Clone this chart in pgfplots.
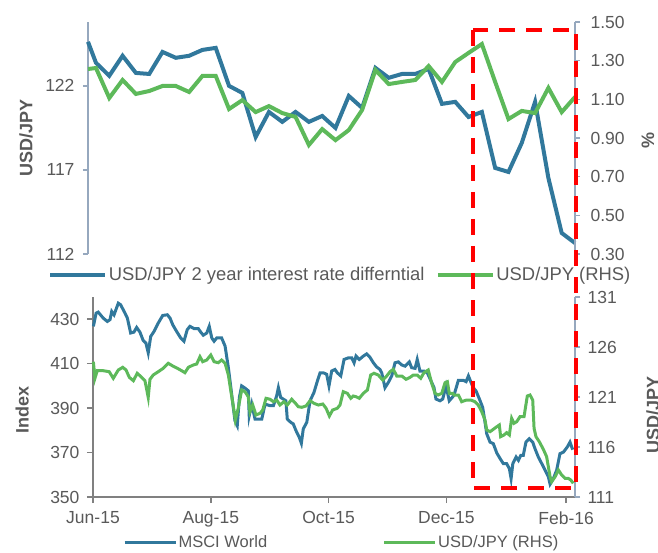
\documentclass[border=0pt]{standalone}
\usepackage{pgfplots}
\pgfplotsset{compat=1.18}
\usepackage{fontspec}
\setmainfont{Liberation Sans}
\definecolor{cblue}{RGB}{49,120,156}
\definecolor{cgreen}{RGB}{93,185,90}
\definecolor{tickgray}{RGB}{89,89,89}
\definecolor{axgray}{RGB}{128,128,128}
\definecolor{axblue}{RGB}{150,168,190}
\pgfplotsset{
  base/.style={scale only axis, clip=false,
    /pgf/number format/assume math mode=true,
    tick label style={font=\fontsize{17.5}{20}\selectfont, text=tickgray},
    label style={font=\fontsize{18}{21}\selectfont\bfseries, text=tickgray},
    tick align=outside, major tick length=5pt,
  },
}
\pgfplotstableread{
x v
-0.6 124.62
0 123.37
1 122.60
2 123.79
3 122.77
4 122.71
5 124.02
6 123.67
7 123.79
8 124.14
9 124.26
10 122.00
11 121.58
12 118.96
13 120.45
14 119.86
15 120.45
16 119.86
17 120.21
18 119.50
19 121.40
20 120.69
21 123.07
22 122.48
23 122.71
24 122.71
25 123.01
26 120.93
27 121.05
28 120.15
29 120.45
30 117.12
31 116.88
32 118.61
33 121.05
34 116.52
35 113.25
36 112.65
}\topblue
\pgfplotstableread{
x v
-0.6 1.257
0 1.262
1 1.107
2 1.200
3 1.128
4 1.143
5 1.169
6 1.169
7 1.138
8 1.221
9 1.221
10 1.050
11 1.096
12 1.034
13 1.065
14 1.029
15 1.009
16 0.864
17 0.946
18 0.889
19 0.941
20 1.045
21 1.252
22 1.179
23 1.190
24 1.200
25 1.272
26 1.190
27 1.293
28 1.340
29 1.386
30 1.190
31 0.998
32 1.040
33 1.029
34 1.159
35 1.034
36 1.112
}\topgreen
\pgfplotstableread{
d v
0.2 426.8
1.6 432.7
2.7 433.2
5.3 430.5
7.4 429.0
8.8 429.8
9.7 433.5
10.9 432.0
13.1 437.2
14.3 436.5
16.6 432.7
17.8 430.5
19.5 423.8
21.2 424.2
22.6 426.3
24.3 424.2
26.0 420.4
27.4 419.3
28.6 414.9
29.9 422.3
31.6 424.5
33.8 428.3
36.1 431.7
38.5 432.0
39.9 430.5
41.3 427.5
43.3 424.5
45.4 421.6
47.1 420.1
48.8 425.3
50.2 426.8
52.3 425.8
54.5 425.8
55.8 424.2
57.1 422.8
58.9 423.8
60.2 426.8
61.5 421.6
62.7 420.1
64.1 421.6
66.6 421.6
68.4 417.9
70.1 408.2
71.8 396.3
73.5 384.4
74.7 382.1
75.8 394.8
77.0 400.0
78.7 399.0
80.4 397.8
80.9 386.6
82.2 391.8
83.9 385.1
87.4 385.1
89.1 391.8
91.7 391.1
93.4 391.1
95.1 395.5
96.0 399.2
97.2 394.8
99.9 393.3
100.6 385.1
102.4 383.6
103.7 382.9
105.1 379.9
106.8 376.9
107.9 374.2
108.9 380.7
110.7 383.6
112.4 393.3
114.4 397.0
116.2 402.2
117.6 405.9
119.3 405.9
121.0 405.2
122.2 400.0
123.6 406.7
125.3 407.4
126.5 405.9
128.3 404.5
130.0 411.9
132.2 412.6
134.0 412.6
135.2 410.4
136.2 413.4
137.9 411.9
140.0 413.4
141.7 414.4
143.4 412.9
145.2 410.4
146.9 408.5
148.6 407.4
149.5 405.9
151.2 399.2
152.9 401.5
154.7 404.5
156.4 410.4
158.1 410.8
159.9 409.4
161.6 408.9
163.8 410.8
165.0 408.2
166.8 407.9
167.9 411.9
169.3 406.7
171.4 406.7
173.1 405.9
174.9 402.5
176.6 399.2
177.6 394.1
179.7 393.3
181.1 394.1
182.8 400.0
184.5 393.3
186.3 395.1
187.0 396.0
189.2 402.5
191.8 402.5
193.2 401.9
194.4 404.5
195.6 401.9
196.9 399.2
198.3 397.8
200.1 394.1
201.8 390.3
203.0 383.6
203.9 378.4
205.6 374.7
207.3 374.0
209.1 369.8
210.8 367.3
212.5 365.0
214.2 365.0
215.6 362.8
216.5 358.3
217.4 365.0
219.1 368.0
220.3 366.5
221.5 368.7
222.8 368.7
224.2 374.7
225.9 376.2
227.7 374.7
228.9 371.7
230.6 368.0
232.4 365.0
234.1 362.1
235.8 359.1
236.7 355.8
238.4 358.3
240.1 362.1
241.8 369.5
243.6 370.2
245.6 372.5
247.0 374.7
248.4 371.3
}\msci
\pgfplotstableread{
d v
0.2 124.53
1.0 122.87
2.2 123.63
5.3 123.63
8.4 123.53
10.5 122.87
13.1 123.70
15.4 123.97
17.1 123.70
18.8 122.97
20.9 122.63
22.9 123.37
25.2 122.97
26.9 122.63
28.6 120.97
29.5 122.77
31.2 123.20
33.8 123.53
36.4 123.87
39.0 124.37
41.3 124.10
43.7 123.87
45.9 123.63
47.6 123.43
49.4 123.97
51.9 124.20
53.7 124.30
55.4 125.03
56.8 124.53
58.9 124.70
61.0 125.20
62.7 124.53
64.9 124.43
66.6 124.70
68.4 124.37
70.1 123.20
71.3 121.70
72.7 120.03
73.7 118.70
75.2 119.87
77.0 121.70
78.7 121.53
80.4 121.03
81.3 119.53
82.7 120.20
84.4 119.20
86.5 119.37
87.9 119.70
89.6 120.87
91.7 120.77
93.4 120.53
95.1 120.70
96.8 120.20
98.9 120.53
100.6 120.20
102.9 120.77
104.6 120.43
106.3 120.03
108.1 119.97
110.3 120.10
112.4 120.63
114.4 120.37
116.7 120.20
119.0 120.30
120.7 119.87
122.4 119.10
124.1 119.70
126.5 119.87
127.9 120.20
129.6 121.53
131.7 121.37
133.5 120.87
134.8 121.10
136.2 121.03
137.9 120.87
140.0 121.37
142.1 121.70
143.8 123.20
145.5 123.37
147.7 123.20
150.0 122.70
152.1 123.10
153.8 123.53
155.5 123.77
157.3 123.10
159.9 123.10
162.1 122.77
164.2 122.97
165.9 123.20
167.9 123.20
169.7 122.87
171.4 123.43
173.6 123.70
175.4 122.37
177.1 121.37
178.8 121.20
180.6 121.37
182.3 122.43
183.5 122.53
184.5 121.37
186.3 121.37
187.0 121.20
189.2 121.20
190.9 120.53
193.5 120.70
195.6 120.70
197.8 120.53
199.5 120.20
201.3 119.53
203.0 118.70
203.9 117.70
205.6 117.53
207.3 117.77
209.1 118.03
210.4 118.20
211.1 117.03
212.8 117.20
214.2 117.43
215.6 117.20
216.8 118.87
218.0 118.37
219.4 118.53
221.1 119.03
223.2 119.03
224.9 121.10
226.3 121.20
227.7 120.70
228.4 117.87
229.4 117.03
231.1 116.53
233.2 115.77
234.9 115.03
236.7 113.03
237.5 112.53
239.3 113.03
241.0 113.70
242.7 113.20
244.4 112.87
246.1 112.87
247.4 112.70
248.7 112.37
}\usdjpy
\begin{document}
\begin{tikzpicture}
% ---------- top panel ----------
\begin{axis}[base, at={(88pt,-254pt)}, anchor=south west, width=487pt, height=232pt,
  xmin=-0.6, xmax=36, ymin=112, ymax=125.8,
  hide x axis, axis y line*=left,
  ytick={112,117,122}, yticklabel shift=5pt,
  y axis line style={axblue, line width=1.3pt}, ytick style={axblue, line width=1.3pt},
  ylabel={USD/JPY}, ylabel style={at={(axis description cs:-0.127,0.5)}, anchor=center}]
\addplot[cblue, line width=4pt] table[x=x,y=v] {\topblue};
\end{axis}
\begin{axis}[base, at={(88pt,-254pt)}, anchor=south west, width=487pt, height=232pt,
  xmin=-0.6, xmax=36, ymin=0.3, ymax=1.5,
  hide x axis, axis y line*=right,
  ytick={0.3,0.5,0.7,0.9,1.1,1.3,1.5}, yticklabel shift=7pt,
  yticklabel style={/pgf/number format/.cd, fixed, fixed zerofill, precision=2},
  y axis line style={axblue, line width=1.3pt}, ytick style={axblue, line width=1.3pt},
  ylabel={\%}, ylabel style={at={(axis description cs:1.150,0.491)}, anchor=center},
  legend columns=2,
  legend image code/.code={\draw[#1] (0pt,0pt) -- (55pt,0pt);},
  legend style={at={(axis description cs:-0.082,-0.0905)}, anchor=west, draw=none, fill=none,
    inner sep=0pt, font=\fontsize{18.4}{21}\selectfont, text=tickgray, nodes={inner sep=1.5pt},
    /tikz/every even column/.append style={column sep=10pt}}]
\addlegendimage{cblue, line width=4pt}
\addlegendentry{USD/JPY 2 year interest rate differntial}
\addplot[cgreen, line width=4pt] table[x=x,y=v] {\topgreen};
\addlegendentry{USD/JPY (RHS)}
\end{axis}
% ---------- bottom panel ----------
\begin{axis}[base, at={(93pt,-497pt)}, anchor=south west, width=482pt, height=200pt,
  xmin=0, xmax=249.6, ymin=350, ymax=440,
  axis x line*=bottom, axis y line*=left,
  xtick={0,61,122,183,245}, xticklabels={Jun-15,Aug-15,Oct-15,Dec-15,Feb-16},
  xticklabel shift=5pt,
  ytick={350,370,390,410,430}, yticklabel shift=4pt, major tick length=6pt,
  axis line style={axgray, line width=1.5pt}, tick style={axgray, line width=1.5pt},
  ylabel={Index}, ylabel style={at={(axis description cs:-0.147,0.435)}, anchor=center}]
\addplot[cblue, line width=3pt] table[x=d,y=v] {\msci};
\end{axis}
\begin{axis}[base, at={(93pt,-497pt)}, anchor=south west, width=482pt, height=200pt,
  xmin=0, xmax=249.6, ymin=111, ymax=131,
  hide x axis, axis y line*=right,
  ytick={111,116,121,126,131}, yticklabel shift=4pt,
  y axis line style={axblue, line width=1.3pt}, ytick style={axblue, line width=1.3pt},
  ylabel={USD/JPY}, ylabel style={at={(axis description cs:1.162,0.41)}, anchor=center},
  legend columns=2,
  legend image code/.code={\draw[#1] (0pt,0pt) -- (51pt,0pt);},
  legend style={at={(axis description cs:0.062,-0.225)}, anchor=west, draw=none, fill=none,
    inner sep=0pt, font=\fontsize{16.5}{19}\selectfont, text=tickgray, nodes={inner sep=1.5pt},
    /tikz/every even column/.append style={column sep=114pt}}]
\addlegendimage{cblue, line width=3pt}
\addlegendentry{MSCI World}
\addplot[cgreen, line width=3pt] table[x=d,y=v] {\usdjpy};
\addlegendentry{USD/JPY (RHS)}
\end{axis}
% highlight box
\draw[red, line width=3.5pt, dash pattern=on 16pt off 11pt] (473pt,-30pt) rectangle (576pt,-488pt);
\pgfresetboundingbox
\path[use as bounding box] (0pt,0pt) rectangle (658pt,-553pt);
\end{tikzpicture}
\end{document}
